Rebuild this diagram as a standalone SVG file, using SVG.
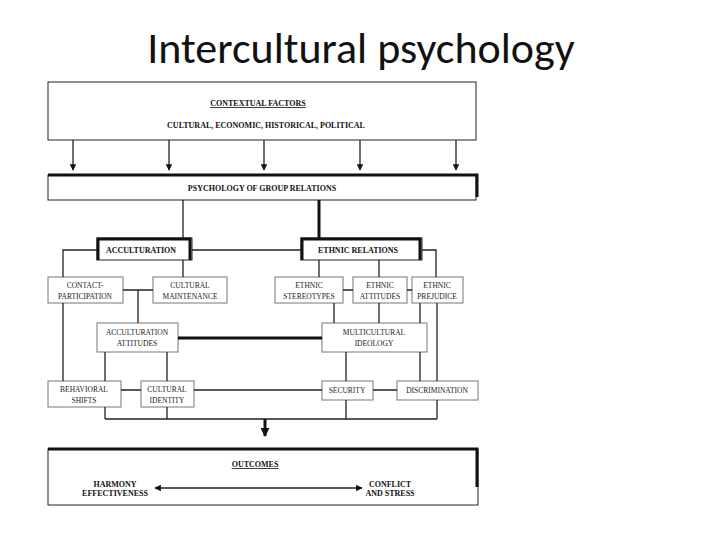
<svg xmlns="http://www.w3.org/2000/svg" width="720" height="540" viewBox="0 0 720 540">
<defs>
<style>
.b{fill:#fff;stroke:#222;stroke-width:1}
.g{fill:#fff;stroke:#777;stroke-width:1}
.t{font-family:"Liberation Serif",serif;font-size:7.5px;fill:#222;text-anchor:middle}
.h{font-family:"Liberation Serif",serif;font-weight:bold;font-size:8px;fill:#111;text-anchor:middle}
.l{stroke:#222;stroke-width:1.3;fill:none}
.k{stroke:#111;stroke-width:3;fill:none}
</style>
<marker id="a" viewBox="0 0 10 10" refX="9" refY="5" markerWidth="5" markerHeight="5" orient="auto-start-reverse"><path d="M0,0L10,5L0,10z" fill="#111"/></marker>
<marker id="a2" viewBox="0 0 10 10" refX="9" refY="5" markerWidth="3" markerHeight="3" orient="auto"><path d="M0,0L10,5L0,10z" fill="#111"/></marker>
</defs>
<rect width="720" height="540" fill="#fff"/>
<text x="361" y="63" font-family="Carlito,'Liberation Sans',sans-serif" font-size="44" text-anchor="middle" fill="#111">Intercultural psychology</text>
<g id="contextual"><rect class="b" x="48" y="82" width="428" height="58"/>
<text class="h" x="258" y="106" font-size="9.5" text-decoration="underline">CONTEXTUAL FACTORS</text>
<text class="h" x="266" y="128" font-size="7">CULTURAL, ECONOMIC, HISTORICAL, POLITICAL</text></g>
<g id="psych"><rect class="b" x="48" y="175" width="428" height="25"/><path d="M48,175H477V197" class="k"/>
<text class="h" x="262" y="191">PSYCHOLOGY OF GROUP RELATIONS</text></g>
<g id="accult"><rect class="b" x="97" y="238" width="95" height="22"/><path d="M98,260V239H190V260" class="k"/><text class="h" x="141" y="253">ACCULTURATION</text></g>
<g id="ethnic"><rect class="b" x="301" y="238" width="121" height="22"/><path d="M302,260V239H420V260" class="k"/><text class="h" x="358" y="253">ETHNIC RELATIONS</text></g>
<g id="contact"><rect class="g" x="48" y="277" width="75" height="26"/><text class="t" x="85" y="288">CONTACT-</text><text class="t" x="85" y="299">PARTICIPATION</text></g>
<g id="maint"><rect class="g" x="153" y="277" width="74" height="26"/><text class="t" x="190" y="288">CULTURAL</text><text class="t" x="190" y="299">MAINTENANCE</text></g>
<g id="stereo"><rect class="g" x="275" y="277" width="68" height="26"/><text class="t" x="309" y="288">ETHNIC</text><text class="t" x="309" y="299">STEREOTYPES</text></g>
<g id="attit"><rect class="g" x="353" y="277" width="54" height="26"/><text class="t" x="380" y="288">ETHNIC</text><text class="t" x="380" y="299">ATTITUDES</text></g>
<g id="prej"><rect class="g" x="412" y="277" width="51" height="26"/><text class="t" x="437" y="288">ETHNIC</text><text class="t" x="437" y="299">PREJUDICE</text></g>
<g id="accatt"><rect class="g" x="97" y="323" width="81" height="29"/><text class="t" x="137" y="335">ACCULTURATION</text><text class="t" x="137" y="346">ATTITUDES</text></g>
<g id="multi"><rect class="g" x="322" y="323" width="105" height="29"/><text class="t" x="374" y="335">MULTICULTURAL</text><text class="t" x="374" y="346">IDEOLOGY</text></g>
<g id="behav"><rect class="g" x="48" y="381" width="73" height="26"/><text class="t" x="84" y="392">BEHAVIORAL</text><text class="t" x="84" y="403">SHIFTS</text></g>
<g id="ident"><rect class="g" x="141" y="381" width="53" height="26"/><text class="t" x="167" y="392">CULTURAL</text><text class="t" x="167" y="403">IDENTITY</text></g>
<g id="secur"><rect class="g" x="322" y="381" width="51" height="19"/><text class="t" x="347" y="393">SECURITY</text></g>
<g id="discr"><rect class="g" x="397" y="381" width="81" height="19"/><text class="t" x="437" y="393">DISCRIMINATION</text></g>
<g id="outcomes"><rect class="b" x="48" y="449" width="430" height="56"/><path d="M48,449H477V487" class="k" stroke-width="4"/>
<text class="h" x="255" y="467" font-size="11" text-decoration="underline">OUTCOMES</text>
<text class="h" x="115" y="487" font-size="7">HARMONY</text><text class="h" x="115" y="496" font-size="7">EFFECTIVENESS</text>
<text class="h" x="390" y="487" font-size="7">CONFLICT</text><text class="h" x="390" y="496" font-size="7">AND STRESS</text></g>
<g id="connectors">
<path class="l" marker-end="url(#a)" d="M73,140V170"/>
<path class="l" marker-end="url(#a)" d="M169,140V170"/>
<path class="l" marker-end="url(#a)" d="M264,140V170"/>
<path class="l" marker-end="url(#a)" d="M360,140V170"/>
<path class="l" marker-end="url(#a)" d="M456,140V170"/>
<path class="l" d="M183,200V238M192,250H301M97,250H63V277M183,260V277M123,290H153M138,290V323M63,303V381"/>
<path class="k" d="M319,200V238"/>
<path class="l" d="M319,260V277M379,260V277M422,250H436V277M343,290H353M407,290H412M334,303V323M379,303V323M420,303V323M437,303V381"/>
<path class="k" d="M178,338H322"/>
<path class="l" d="M105,352V381M167,352V381M346,352V381M420,352V381M121,390H141M194,390H322M373,390H397"/>
<path class="l" d="M105,407V419M167,407V419M346,400V419M437,400V419M105,419H437"/>
<path class="k" d="M265,419V436" marker-end="url(#a2)"/>
<path class="l" marker-start="url(#a)" marker-end="url(#a)" d="M155,488H362"/>
</g>
</svg>
